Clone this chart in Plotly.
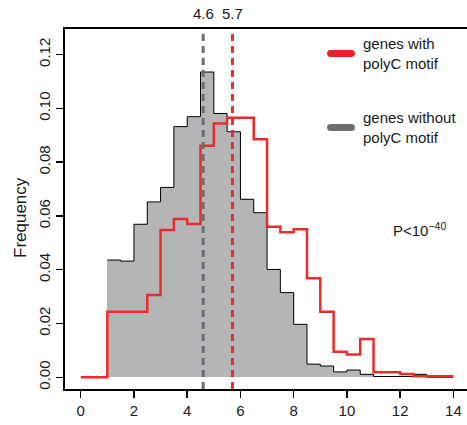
import plotly.graph_objects as go

# ---------------- data ----------------
# bin edges (width 0.5) for the "without polyC" histogram (1 .. 14)
gray_edges = [1.0, 1.5, 2.0, 2.5, 3.0, 3.5, 4.0, 4.5, 5.0, 5.5, 6.0, 6.5, 7.0,
              7.5, 8.0, 8.5, 9.0, 9.5, 10.0, 10.5, 11.0, 11.5, 12.0, 12.5,
              13.0, 13.5, 14.0]
gray_freq = [0.0436, 0.0432, 0.0569, 0.0652, 0.0706, 0.0932, 0.0969, 0.1135,
             0.0981, 0.0913, 0.0662, 0.0612, 0.0401, 0.0315, 0.0197, 0.0049,
             0.0042, 0.0020, 0.0027, 0.0011, 0.0003, 0.0003, 0.0003, 0.0011,
             0.0, 0.0]

# bin edges for the "with polyC" histogram (0 .. 14)
red_edges = [0.0, 0.5, 1.0, 1.5, 2.0, 2.5, 3.0, 3.5, 4.0, 4.5, 5.0, 5.5, 6.0,
             6.5, 7.0, 7.5, 8.0, 8.5, 9.0, 9.5, 10.0, 10.5, 11.0, 11.5, 12.0,
             12.5, 13.0, 13.5, 14.0]
red_freq = [0.0, 0.0, 0.0244, 0.0244, 0.0244, 0.0306, 0.0548, 0.0589, 0.0570,
            0.0861, 0.0944, 0.0965, 0.0965, 0.0885, 0.0560, 0.0539, 0.0550,
            0.0368, 0.0244, 0.0095, 0.0085, 0.0142, 0.0019, 0.0019, 0.0012,
            0.0004, 0.0004, 0.0004]

median_without = 4.6
median_with = 5.7
median_labels = ["4.6", "5.7"]

x_ticks = [0, 2, 4, 6, 8, 10, 12, 14]
y_ticks = [0.00, 0.02, 0.04, 0.06, 0.08, 0.10, 0.12]
y_ticktext = ["0.00", "0.02", "0.04", "0.06", "0.08", "0.10", "0.12"]

legend_labels = ["genes with<br>polyC motif", "genes without<br>polyC motif"]
p_text = "P&lt;10<sup>−40</sup>"
y_title = "Frequency"

# ---------------- styling ----------------
W, H = 467, 425
ML, MR, MT, MB = 65, 0, 29, 36
PW, PH = W - ML - MR, H - MT - MB
FONT = "Liberation Sans, Arial, sans-serif"
RED = "#ee2b2b"
RED_LEG = "#e8202a"
GRAY_FILL = "#b3b5b6"
GRAY_DASH = "#6d6e71"
TXT = "#1a1a1a"


def px_x(px):
    return (px - ML) / PW


def px_y(py):
    return (H - MB - py) / PH


fig = go.Figure()

# gray filled bars
centers = [(a + b) / 2 for a, b in zip(gray_edges[:-1], gray_edges[1:])]
widths = [b - a for a, b in zip(gray_edges[:-1], gray_edges[1:])]
fig.add_trace(go.Bar(x=centers, y=gray_freq, width=widths,
                     marker=dict(color=GRAY_FILL, line=dict(width=0)),
                     showlegend=False, hoverinfo="skip"))
# black outline step
fig.add_trace(go.Scatter(x=gray_edges, y=gray_freq + [gray_freq[-1]],
                         mode="lines", line=dict(shape="hv", color="black", width=1),
                         showlegend=False, hoverinfo="skip"))
# red step line
fig.add_trace(go.Scatter(x=red_edges, y=red_freq + [red_freq[-1]],
                         mode="lines", line=dict(shape="hv", color=RED, width=2.5),
                         showlegend=False, hoverinfo="skip"))

shapes = []
annotations = []
for xv, col, lab in [(median_without, GRAY_DASH, median_labels[0]),
                     (median_with, RED, median_labels[1])]:
    shapes.append(dict(type="line", xref="x", yref="paper", x0=xv, x1=xv, y0=0, y1=1,
                       line=dict(color=col, width=3, dash="7px,5px"), layer="above"))
    annotations.append(dict(xref="x", yref="paper", x=xv, y=px_y(14), text=lab,
                            showarrow=False, xanchor="center", yanchor="middle",
                            font=dict(family=FONT, size=15, color=TXT)))


def capsule(x0, x1, yc, h):
    r = h / 2
    X = px_x
    Y = px_y
    p = (f"M {X(x0 + r)} {Y(yc - r)} L {X(x1 - r)} {Y(yc - r)} "
         f"C {X(x1 + r * 0.33)} {Y(yc - r)} {X(x1 + r * 0.33)} {Y(yc + r)} {X(x1 - r)} {Y(yc + r)} "
         f"L {X(x0 + r)} {Y(yc + r)} "
         f"C {X(x0 - r * 0.33)} {Y(yc + r)} {X(x0 - r * 0.33)} {Y(yc - r)} {X(x0 + r)} {Y(yc - r)} Z")
    return p


for yc, col, lab in [(53.5, RED_LEG, legend_labels[0]), (127.5, GRAY_DASH, legend_labels[1])]:
    shapes.append(dict(type="path", xref="paper", yref="paper", path=capsule(327, 355, yc, 7),
                       fillcolor=col, line=dict(width=0), layer="above"))
    annotations.append(dict(xref="paper", yref="paper", x=px_x(361), y=px_y(yc), text=lab,
                            showarrow=False, xanchor="left", yanchor="middle", align="left",
                            font=dict(family=FONT, size=15, color=TXT)))

annotations.append(dict(xref="paper", yref="paper", x=px_x(391), y=px_y(229), text=p_text,
                        showarrow=False, xanchor="left", yanchor="middle",
                        font=dict(family=FONT, size=15, color=TXT)))
annotations.append(dict(xref="paper", yref="paper", x=px_x(20), y=px_y(218), text=y_title,
                        textangle=-90, showarrow=False, xanchor="center", yanchor="middle",
                        font=dict(family=FONT, size=17, color=TXT)))

fig.update_layout(
    width=W, height=H,
    margin=dict(l=ML, r=MR, t=MT, b=MB, pad=0, autoexpand=False),
    paper_bgcolor="white", plot_bgcolor="white",
    bargap=0, showlegend=False,
    shapes=shapes, annotations=annotations,
    font=dict(family=FONT, size=15, color=TXT),
)
fig.update_xaxes(range=[-0.59, 14.51], tickvals=x_ticks, ticks="outside", ticklen=7,
                 tickwidth=1.5, tickcolor="black", showline=True, linecolor="black",
                 linewidth=2, mirror=True, showgrid=False, zeroline=False,
                 automargin=False,
                 tickfont=dict(family=FONT, size=15, color=TXT))
fig.update_yaxes(range=[-0.00435, 0.1295], tickvals=y_ticks, ticktext=y_ticktext,
                 tickangle=-90, ticks="outside", ticklen=7, tickwidth=1.5,
                 tickcolor="black", showline=True, linecolor="black", linewidth=2,
                 mirror=False, showgrid=False, zeroline=False, automargin=False,
                 tickfont=dict(family=FONT, size=15, color=TXT))

fig.write_html(
    "out.html",
    config={"displayModeBar": False, "staticPlot": True},
    post_script="document.body.style.margin='0';document.body.style.padding='0';"
                "document.body.style.overflow='hidden';",
)
